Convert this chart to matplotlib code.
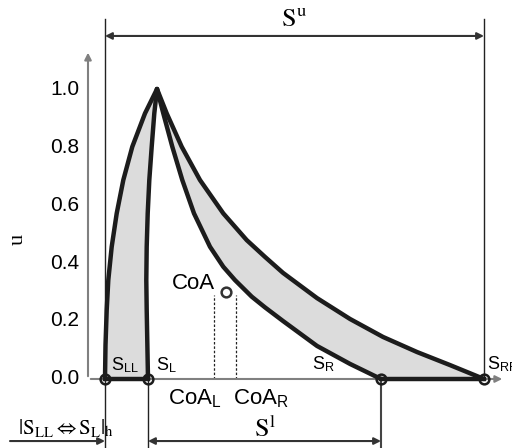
import numpy as np
import matplotlib.pyplot as plt

plt.rcParams['font.family'] = ['Liberation Sans', 'DejaVu Sans']
plt.rcParams['mathtext.fontset'] = 'stix'

# key positions along the x axis
s_ll, s_l, s_r, s_rr = 0.17, 0.60, 2.93, 3.96
coa = (1.38, 0.30)
coa_l, coa_r = 1.26, 1.48

# outer / inner curve of the left flank (x, u)
left_outer_x = [0.17, 0.175, 0.187, 0.203, 0.237, 0.287, 0.353, 0.443, 0.57, 0.69]
left_outer_u = [0.0, 0.117, 0.238, 0.341, 0.456, 0.571, 0.686, 0.801, 0.916, 1.0]
left_inner_x = [0.60, 0.587, 0.583, 0.587, 0.597, 0.613, 0.637, 0.663, 0.69]
left_inner_u = [0.0, 0.238, 0.341, 0.456, 0.571, 0.686, 0.801, 0.916, 1.0]

# inner / outer curve of the right flank
right_inner_x = [0.69, 0.753, 0.843, 0.943, 1.06, 1.22, 1.353, 1.47, 1.637,
                 1.77, 1.95, 2.29, 2.62, 2.93]
right_inner_u = [1.0, 0.916, 0.801, 0.686, 0.571, 0.456, 0.387, 0.341, 0.284,
                 0.247, 0.200, 0.114, 0.052, 0.0]
right_outer_x = [0.69, 0.787, 0.937, 1.12, 1.353, 1.587, 1.77, 1.95, 2.29,
                 2.62, 2.95, 3.29, 3.62, 3.96]
right_outer_u = [1.0, 0.916, 0.801, 0.686, 0.571, 0.479, 0.421, 0.366, 0.279,
                 0.207, 0.145, 0.093, 0.048, 0.0]

yticks = [0.0, 0.2, 0.4, 0.6, 0.8, 1.0]

fig = plt.figure(figsize=(5.12, 4.48), dpi=100)
ax = fig.add_axes([0, 0, 1, 1])
ax.set_xlim(-0.88, 4.24)
ax.set_ylim(-0.238, 1.307)
ax.axis('off')

curve = '#1c1c1c'
fill = '#dcdcdc'
grey = '#808080'

# shaded bands
ax.fill(left_outer_x + left_inner_x[::-1], left_outer_u + left_inner_u[::-1],
        color=fill, lw=0, zorder=1)
ax.fill(right_inner_x + right_outer_x[::-1], right_inner_u + right_outer_u[::-1],
        color=fill, lw=0, zorder=1)

# axes with arrows
ax.annotate('', xy=(0, 1.135), xytext=(0, 0),
            arrowprops=dict(arrowstyle='-|>', color=grey, lw=1.5, mutation_scale=10))
ax.annotate('', xy=(4.17, 0), xytext=(0, 0),
            arrowprops=dict(arrowstyle='-|>', color=grey, lw=1.5, mutation_scale=10))

# thin reference lines
ax.plot([s_ll, s_ll], [-0.238, 1.241], color='#222222', lw=1, zorder=2)
ax.plot([s_rr, s_rr], [0, 1.241], color='#222222', lw=1, zorder=2)
ax.plot([s_l, s_l], [-0.238, 0], color='#222222', lw=1, zorder=2)
ax.plot([s_r, s_r], [-0.238, 0], color='#444444', lw=1.5, zorder=2)

# curves
for xs, us in [(left_outer_x, left_outer_u), (left_inner_x, left_inner_u),
               (right_inner_x, right_inner_u), (right_outer_x, right_outer_u)]:
    ax.plot(xs, us, color=curve, lw=3.2, solid_joinstyle='round',
            solid_capstyle='round', zorder=3)
ax.plot([s_ll, s_l], [0, 0], color=curve, lw=3.2, zorder=3)
ax.plot([s_r, s_rr], [0, 0], color=curve, lw=3.2, zorder=3)
ax.plot([s_ll, s_l, s_r, s_rr], [0, 0, 0, 0], 'o', ms=7, mfc='none',
        mec=curve, mew=1.8, zorder=4)

# centre of area
ax.plot([coa_l, coa_l], [0, 0.29], color='#222222', lw=0.9, ls=(0, (2, 1.5)))
ax.plot([coa_r, coa_r], [0, 0.29], color='#222222', lw=0.9, ls=(0, (2, 1.5)))
ax.plot(*coa, 'o', ms=7, mfc='white', mec='#333333', mew=1.8, zorder=4)
ax.text(0.84, 0.31, 'CoA', fontsize=16, va='baseline')
ax.text(0.80, -0.086, r'CoA$_\mathregular{L}$', fontsize=16, va='baseline')
ax.text(1.45, -0.086, r'CoA$_\mathregular{R}$', fontsize=16, va='baseline')

# point labels
ax.text(0.23, 0.028, r'S$_\mathregular{LL}$', fontsize=13, va='baseline')
ax.text(0.68, 0.028, r'S$_\mathregular{L}$', fontsize=13, va='baseline')
ax.text(2.24, 0.034, r'S$_\mathregular{R}$', fontsize=13, va='baseline')
ax.text(3.99, 0.034, r'S$_\mathregular{RR}$', fontsize=13, va='baseline')

# y tick labels and axis label
for t in yticks:
    ax.text(-0.09, t, f'{t:.1f}', fontsize=15, ha='right', va='center')
ax.text(-0.70, 0.48, 'u', family='Liberation Serif', fontsize=16,
        rotation=90, ha='center', va='center')

# span arrows
ax.annotate('', xy=(s_ll, 1.183), xytext=(s_rr, 1.183),
            arrowprops=dict(arrowstyle='<|-|>', color='#333333', lw=1.5,
                            mutation_scale=10, shrinkA=0, shrinkB=0))
ax.text(2.06, 1.217, r'$\mathrm{S}^{\mathrm{u}}$', fontsize=19, ha='center', va='baseline')
ax.annotate('', xy=(s_l, -0.214), xytext=(s_r, -0.214),
            arrowprops=dict(arrowstyle='<|-|>', color='#333333', lw=1.5,
                            mutation_scale=10, shrinkA=0, shrinkB=0))
ax.text(1.77, -0.200, r'$\mathrm{S}^{\mathrm{l}}$', fontsize=19, ha='center', va='baseline')
ax.annotate('', xy=(s_ll, -0.214), xytext=(-0.78, -0.214),
            arrowprops=dict(arrowstyle='-|>', color='#333333', lw=1.5,
                            mutation_scale=10, shrinkA=0, shrinkB=0))
ax.text(-0.70, -0.188, r'$|\mathrm{S_{LL}}\Leftrightarrow\mathrm{S_L}|_\mathrm{h}$',
        fontsize=15, va='baseline')

fig.savefig('out.png', dpi=100)
